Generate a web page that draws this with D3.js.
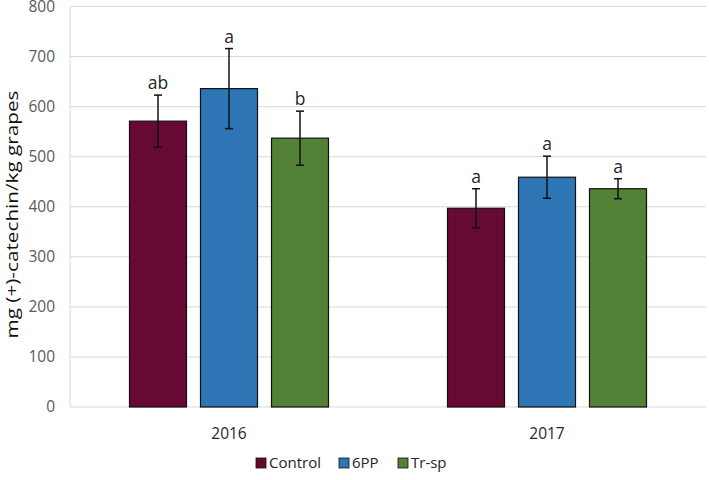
<!DOCTYPE html>
<html lang="en">
<head>
<meta charset="UTF-8">
<title>Catechin</title>
<script src="https://d3js.org/d3.v7.min.js"></script>
<style>
  body { margin: 0; background: #fff; }
  text { font-family: "Open Sans", "Liberation Sans", sans-serif; }
</style>
</head>
<body>
<svg id="chart" width="709" height="480"></svg>
<script>
// data
var years = ["2016", "2017"];
var treatments = ["Control", "6PP", "Tr-sp"];
var colors = ["#660933", "#2e75b6", "#538135"];
var control = [571, 397];
var pp6 = [636, 459];
var trsp = [537, 436];
var controlErr = [52, 39];
var pp6Err = [80, 42];
var trspErr = [54, 20];
var controlLetters = ["ab", "a"];
var pp6Letters = ["a", "a"];
var trspLetters = ["b", "a"];
var yTicks = [0, 100, 200, 300, 400, 500, 600, 700, 800];

var values = [control, pp6, trsp];
var errs = [controlErr, pp6Err, trspErr];
var letters = [controlLetters, pp6Letters, trspLetters];

var svg = d3.select("#chart");
var margin = {left: 70, right: 3, top: 6.5, bottom: 73};
var width = 709 - margin.left - margin.right;
var height = 480 - margin.top - margin.bottom;

var g = svg.append("g").attr("transform", "translate(" + margin.left + "," + margin.top + ")");

var x0 = d3.scaleBand().domain(years).range([0, width]);
var y = d3.scaleLinear().domain([0, 800]).range([height, 0]);

// gridlines
g.selectAll(".grid")
  .data(yTicks)
  .enter().append("line")
    .attr("x1", 0).attr("x2", width)
    .attr("y1", d => y(d)).attr("y2", d => y(d))
    .attr("stroke", "#d9d9d9").attr("stroke-width", 1);

// left axis line
g.append("line")
  .attr("x1", 0).attr("x2", 0).attr("y1", 0).attr("y2", height)
  .attr("stroke", "#d9d9d9");

// y tick labels
g.selectAll(".ylab")
  .data(yTicks)
  .enter().append("text")
    .attr("x", -15).attr("y", d => y(d))
    .attr("dy", "0.35em")
    .attr("text-anchor", "end")
    .attr("fill", "#595959")
    .style("font-size", "15.5px")
    .text(d => d);

// bar layout within category
var barW = 57, gap = 14;
var x1 = d3.scaleBand().domain(treatments)
  .range([(x0.bandwidth() - (3 * barW + 2 * gap)) / 2, (x0.bandwidth() + (3 * barW + 2 * gap)) / 2])
  .paddingInner(gap / (barW + gap));

treatments.forEach(function(t, i) {
  var s = g.append("g");
  years.forEach(function(yr, j) {
    var cx = x0(yr) + x1(t);
    var v = values[i][j], e = errs[i][j];
    s.append("rect")
      .attr("x", cx).attr("y", y(v))
      .attr("width", x1.bandwidth()).attr("height", height - y(v))
      .attr("fill", colors[i])
      .attr("stroke", "#111").attr("stroke-width", 1.2);
    var mx = cx + x1.bandwidth() / 2;
    s.append("line")
      .attr("x1", mx).attr("x2", mx).attr("y1", y(v + e)).attr("y2", y(v - e))
      .attr("stroke", "#111").attr("stroke-width", 1.5);
    [v + e, v - e].forEach(function(c) {
      s.append("line")
        .attr("x1", mx - 4).attr("x2", mx + 4).attr("y1", y(c)).attr("y2", y(c))
        .attr("stroke", "#111").attr("stroke-width", 1.5);
    });
    s.append("text")
      .attr("x", mx).attr("y", y(v + e) - 6)
      .attr("text-anchor", "middle")
      .attr("fill", "#262626")
      .style("font-size", "17.5px")
      .text(letters[i][j]);
  });
});

// x axis labels
g.selectAll(".xlab")
  .data(years)
  .enter().append("text")
    .attr("x", d => x0(d) + x0.bandwidth() / 2)
    .attr("y", height + 32)
    .attr("text-anchor", "middle")
    .attr("fill", "#262626")
    .style("font-size", "15.5px")
    .text(d => d);

// y axis title
svg.append("text")
  .attr("transform", "translate(18," + (margin.top + 208) + ") rotate(-90)")
  .attr("text-anchor", "middle")
  .attr("fill", "#111")
  .attr("textLength", 248)
  .attr("lengthAdjust", "spacingAndGlyphs")
  .style("font-size", "17px")
  .text("mg (+)-catechin/kg grapes");

// legend
var legX = [256, 339, 398];
var leg = svg.append("g").attr("transform", "translate(0,463)");
treatments.forEach(function(t, i) {
  leg.append("rect")
    .attr("x", legX[i]).attr("y", -5)
    .attr("width", 10).attr("height", 10)
    .attr("fill", colors[i])
    .attr("stroke", "#111").attr("stroke-width", 0.8);
  leg.append("text")
    .attr("x", legX[i] + 13).attr("y", 0)
    .attr("dy", "0.35em")
    .attr("fill", "#262626")
    .style("font-size", "15px")
    .text(t);
});
</script>
</body>
</html>
